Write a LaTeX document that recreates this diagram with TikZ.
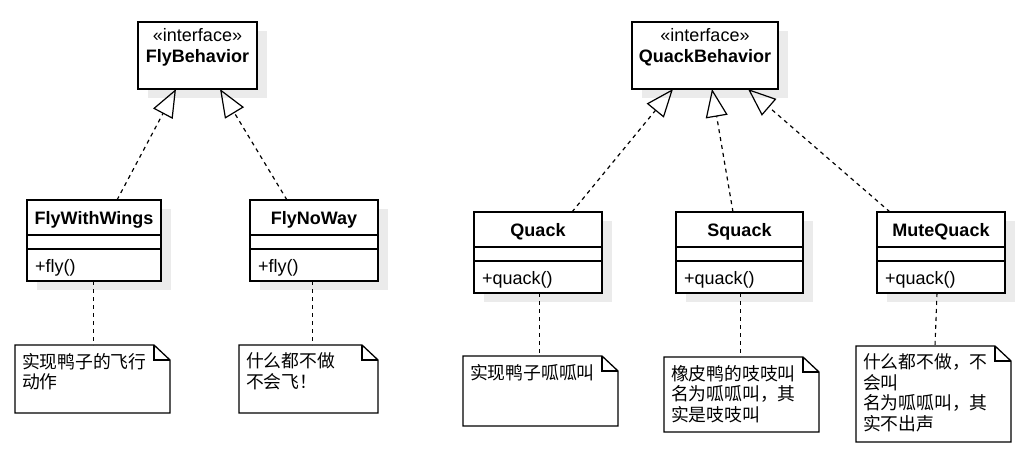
\documentclass[tikz,border=0pt]{standalone}
\usepackage{fontspec}
\setmainfont{Liberation Sans}
\newfontfamily\cjk{Noto Sans CJK SC}
\usetikzlibrary{arrows.meta,calc}
\definecolor{shadowc}{gray}{0.92}
\tikzset{
  boxline/.style={draw=black, line width=1.3pt},
  classbox/.style={boxline, fill=white, inner sep=0pt, outer sep=0pt, anchor=north west},
  lbl/.style={inner sep=0pt, outer sep=0pt, font=\fontsize{18}{21}\selectfont},
  lblb/.style={inner sep=0pt, outer sep=0pt, font=\fontsize{18}{21}\selectfont\bfseries},
  lblc/.style={inner sep=0pt, outer sep=0pt, align=left, font=\fontsize{17.8}{20.5}\selectfont\cjk},
  realize/.style={line width=1.2pt, dash pattern=on 4pt off 4pt, -{Triangle[open,length=28pt,width=22pt]}},
  noteline/.style={line width=1.1pt, dash pattern=on 4pt off 4pt},
}
\newcommand\umlclass[6]{%
  \fill[shadowc] ({#2+10},{#3+9}) rectangle ++(#4,81);
  \node[classbox, minimum width=#4pt, minimum height=81pt] (#1) at (#2,#3) {};
  \draw[boxline] ($(#1.north west)+(0,35)$) -- ($(#1.north east)+(0,35)$);
  \draw[boxline] ($(#1.north west)+(0,49)$) -- ($(#1.north east)+(0,49)$);
  \node[lblb, anchor=base] (#1-t) at ($(#1.north)+(0,24.5)$) {#5};
  \node[lbl, anchor=base west] (#1-m) at ($(#1.north west)+(8,72)$) {#6};
}
\newcommand\umliface[5]{%
  \fill[shadowc] ({#2+10},{#3+9}) rectangle ++(#4,67);
  \node[classbox, minimum width=#4pt, minimum height=67pt] (#1) at (#2,#3) {};
  \node[lbl, anchor=base] (#1-s) at ($(#1.north)+(0,20)$) {«interface»};
  \node[lblb, anchor=base] (#1-t) at ($(#1.north)+(0,41)$) {#5};
}
\newcommand\umlnote[6]{%
  \node[inner sep=0pt, outer sep=0pt, minimum width=#4pt, minimum height=#5pt, anchor=north west] (#1) at (#2,#3) {};
  \draw[boxline, fill=white, line join=miter] (#1.north west) -- ($(#1.north east)+(-16,0)$) -- ($(#1.north east)+(0,15)$) -- (#1.south east) -- (#1.south west) -- cycle;
  \draw[boxline] ($(#1.north east)+(-16,0)$) -- ($(#1.north east)+(-16,15)$) -- ($(#1.north east)+(0,15)$);
  \node[lblc, anchor=north west] (#1-t) at ($(#1.north west)+(7,8)$) {#6};
}
\begin{document}
\begin{tikzpicture}[x=1pt,y=-1pt]
\useasboundingbox (0,0) rectangle (1018,452);
\fill[white] (0,0) rectangle (1018,452);

\umliface{flyb}{138}{22}{119}{FlyBehavior}
\umliface{qb}{632}{22}{146}{QuackBehavior}

\umlclass{fww}{27}{200}{134}{FlyWithWings}{+fly()}
\umlclass{fnw}{250}{200}{128}{FlyNoWay}{+fly()}
\umlclass{qk}{474}{212}{128}{Quack}{+quack()}
\umlclass{sq}{676}{212}{127}{Squack}{+quack()}
\umlclass{mq}{877}{212}{128}{MuteQuack}{+quack()}

\draw[realize] ($(fww.north west)+(90,0)$) -- ($(flyb.south west)+(38,0)$);
\draw[realize] ($(fnw.north west)+(37,0)$) -- ($(flyb.south west)+(82,0)$);
\draw[realize] ($(qk.north west)+(98,0)$) -- ($(qb.south west)+(41,0)$);
\draw[realize] ($(sq.north west)+(57,0)$) -- ($(qb.south west)+(80,0)$);
\draw[realize] ($(mq.north west)+(13,0)$) -- ($(qb.south west)+(116,0)$);

\umlnote{n1}{15}{345}{155}{68}{实现鸭子的飞行\\动作}
\umlnote{n2}{239}{345}{139}{68}{什么都不做\\不会飞！}
\umlnote{n3}{463}{356}{155}{70}{实现鸭子呱呱叫}
\umlnote{n4}{664}{357}{155}{75}{橡皮鸭的吱吱叫\\名为呱呱叫，其\\实是吱吱叫}
\umlnote{n5}{856}{346}{155}{96}{什么都不做，不\\会叫\\名为呱呱叫，其\\实不出声}

\draw[noteline] (fww.south) ++(-0.5,0) coordinate (c1) -- (c1 |- n1.north);
\draw[noteline] (fnw.south) ++(-1.5,0) coordinate (c2) -- (c2 |- n2.north);
\draw[noteline] (qk.south) ++(1.5,0) coordinate (c3) -- (c3 |- n3.north);
\draw[noteline] (sq.south) ++(1,0) coordinate (c4) -- (c4 |- n4.north);
\draw[noteline] ($(mq.south)+(-4,0)$) -- ($(n5.north)+(1.5,0)$);
\end{tikzpicture}
\end{document}
